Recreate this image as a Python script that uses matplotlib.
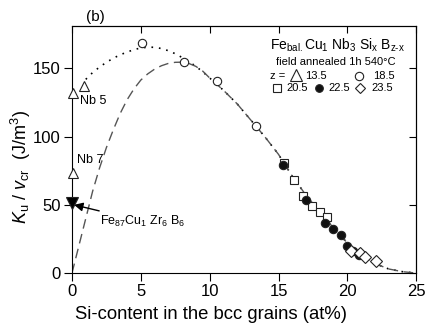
import numpy as np
import matplotlib
matplotlib.use('Agg')
import matplotlib.pyplot as plt

plt.rcParams['font.family'] = ['Liberation Sans', 'DejaVu Sans']
plt.rcParams['mathtext.fontset'] = 'custom'
plt.rcParams['mathtext.rm'] = 'Liberation Sans'
plt.rcParams['mathtext.it'] = 'Liberation Sans:italic'

# data
z135_x = [0.1, 0.9, 0.1]
z135_y = [132, 137, 73]
z185_x = [5.05, 8.15, 10.5, 13.35]
z185_y = [169, 154.5, 140.5, 108]
z205_x = [15.4, 16.15, 16.8, 17.4, 18.0, 18.5]
z205_y = [81, 68.5, 56.3, 48.9, 44.8, 40.9]
z225_x = [15.33, 16.98, 18.35, 18.95, 19.52, 19.97, 20.4, 20.85]
z225_y = [79, 53.2, 37, 32.6, 28, 19.5, 16.5, 13]
z235_x = [20.3, 20.9, 21.3, 22.05]
z235_y = [16.5, 14.5, 12, 8.5]
fezr_x = [0.0]
fezr_y = [51]

# fitted curves
dot_x = [1.0, 1.5, 2.0, 2.5, 3.0, 3.5, 4.0, 4.5, 5.0, 5.5, 6.0, 6.5, 7.0, 7.5, 8.0, 8.5, 9.0, 9.5, 10.0,
         11, 12, 13, 14, 15, 16, 17, 18, 19, 20, 21, 22, 23, 24, 25]
dot_y = [142, 147, 151, 154.5, 157.5, 160, 162, 163.8, 165, 165.6, 165.5, 164.6, 163, 160.8, 158, 155, 151.5, 147.5, 143,
         134, 124, 112, 100, 87, 71, 57, 45, 33, 22, 13, 7, 3, 1, 0]
dash_x = [0, 0.5, 1.0, 1.5, 2.0, 2.5, 3.0, 3.5, 4.0, 4.5, 5.0, 5.5, 6.0, 6.5, 7.0, 7.5, 8.0, 8.5, 9.0, 9.5, 10.0,
          11, 12, 13, 14, 15, 16, 17, 18, 19, 20, 21, 22, 23, 24, 25]
dash_y = [0, 20, 40, 60, 77, 92, 105, 117, 127, 135, 141.5, 146, 149.5, 152, 153.7, 154.5, 154.6, 153.6, 151.5, 148, 143,
          134, 124, 112, 100, 87, 71, 57, 45, 33, 22, 13, 7, 3, 1, 0]

fig = plt.figure(figsize=(4.26, 3.27), dpi=100)
ax = fig.add_axes([0.169, 0.165, 0.808, 0.755])

ax.plot(dot_x, dot_y, color='black', linestyle=(0, (1, 3.5)), lw=1.2)
ax.plot(dash_x, dash_y, color='#555555', linestyle=(0, (7, 4)), lw=1.0)

mk = dict(linestyle='none', mec='#222222', mew=0.8, clip_on=False, zorder=5)
ax.plot(z135_x, z135_y, marker='^', ms=7, mfc='white', **mk)
ax.plot(z185_x, z185_y, marker='o', ms=6, mfc='white', **mk)
ax.plot(z205_x, z205_y, marker='s', ms=6, mfc='white', **mk)
ax.plot(z225_x, z225_y, marker='o', ms=6, mfc='#111111', **mk)
ax.plot(z235_x, z235_y, marker='D', ms=6, mfc='white', **mk)
ax.plot(fezr_x, fezr_y, marker='v', ms=8, mfc='black', **mk)

ax.text(0.6, 126, 'Nb 5', fontsize=9, va='center', ha='left')
ax.text(0.35, 83, 'Nb 7', fontsize=9, va='center', ha='left')
ax.annotate('Fe$_{87}$Cu$_1$ Zr$_6$ B$_6$', xy=(0.15, 50), xytext=(2.0, 38),
            fontsize=9, va='center', ha='left',
            arrowprops=dict(arrowstyle='-|>', color='black', lw=1.0, mutation_scale=13, shrinkA=0, shrinkB=0))

ax.text(0.04, 1.01, '(b)', transform=ax.transAxes, fontsize=11, ha='left', va='bottom')

# legend box text
ax.text(0.77, 0.923, 'Fe$_\\mathrm{bal.}$Cu$_1$ Nb$_3$ Si$_\\mathrm{x}$ B$_\\mathrm{z\\text{-}x}$', transform=ax.transAxes,
        fontsize=10, ha='center', va='center')
ax.text(0.765, 0.855, 'field annealed 1h 540°C', transform=ax.transAxes, fontsize=8, ha='center', va='center')
ax.text(0.575, 0.797, 'z =', transform=ax.transAxes, fontsize=8, ha='left', va='center')
ax.text(0.676, 0.797, '13.5', transform=ax.transAxes, fontsize=8, ha='left', va='center')
ax.text(0.875, 0.797, '18.5', transform=ax.transAxes, fontsize=8, ha='left', va='center')
ax.text(0.622, 0.749, '20.5', transform=ax.transAxes, fontsize=8, ha='left', va='center')
ax.text(0.744, 0.749, '22.5', transform=ax.transAxes, fontsize=8, ha='left', va='center')
ax.text(0.87, 0.749, '23.5', transform=ax.transAxes, fontsize=8, ha='left', va='center')
lg = dict(transform=ax.transAxes, linestyle='none', mec='#222222', mew=0.8, clip_on=False)
ax.plot([0.65], [0.803], marker='^', ms=8, mfc='white', **lg)
ax.plot([0.833], [0.800], marker='o', ms=6, mfc='white', **lg)
ax.plot([0.597], [0.751], marker='s', ms=6, mfc='white', **lg)
ax.plot([0.717], [0.751], marker='o', ms=5.5, mfc='#111111', **lg)
ax.plot([0.836], [0.751], marker='D', ms=5.5, mfc='white', **lg)

ax.set_xlim(0, 25)
ax.set_ylim(0, 181)
ax.set_xticks([0, 5, 10, 15, 20, 25])
ax.set_yticks([0, 50, 100, 150])
ax.tick_params(direction='out', labelsize=12, length=6, width=0.8, pad=2)
ax.set_xlabel('Si-content in the bcc grains (at%)', fontsize=13.3)
ax.set_ylabel('$K_\\mathrm{u}$ / $v_\\mathrm{cr}$  (J/m$^3$)', fontsize=13)
ax.xaxis.set_label_coords(0.405, -0.135)
ax.yaxis.set_label_coords(-0.113, 0.43)

secx = ax.secondary_xaxis('top')
secx.set_xticks([0, 5, 10, 15, 20, 25])
secx.tick_params(direction='in', labeltop=False, length=5, width=0.8)
secy = ax.secondary_yaxis('right')
secy.set_yticks([0, 50, 100, 150])
secy.tick_params(direction='in', labelright=False, length=5, width=0.8)

plt.savefig('out.png', dpi=100)
